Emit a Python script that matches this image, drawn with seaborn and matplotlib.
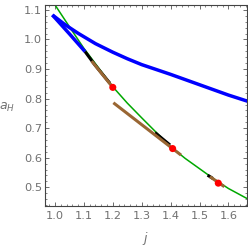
import numpy as np
import pandas as pd
import matplotlib
matplotlib.use("Agg")
import matplotlib.pyplot as plt
from matplotlib.ticker import MultipleLocator
import seaborn as sns

# ---- data ----
green_j = [0.99, 1.0, 1.05, 1.1, 1.15, 1.2, 1.25, 1.3, 1.35, 1.4, 1.45, 1.5, 1.55, 1.6, 1.67]
green_a = [1.132, 1.117, 1.043, 0.970, 0.905, 0.840, 0.785, 0.735, 0.686, 0.638, 0.598, 0.563, 0.528, 0.496, 0.459]

blue_upper_j = [0.991, 1.035, 1.08, 1.14, 1.2, 1.25, 1.3, 1.4, 1.5, 1.6, 1.67]
blue_upper_a = [1.083, 1.050, 1.021, 0.986, 0.957, 0.935, 0.915, 0.882, 0.847, 0.812, 0.790]

blue_lower_j = [0.991, 1.05, 1.104]
blue_lower_a = [1.083, 1.019, 0.959]

black1_j = [1.104, 1.138, 1.19]
black1_a = [0.959, 0.914, 0.852]
black2_j = [1.346, 1.398]
black2_a = [0.685, 0.643]
black3_j = [1.528, 1.546]
black3_a = [0.541, 0.530]

brown1_j = [1.127, 1.2]
brown1_a = [0.927, 0.838]
brown2_j = [1.202, 1.436]
brown2_a = [0.786, 0.609]
brown3_j = [1.536, 1.586]
brown3_a = [0.536, 0.502]

red_j = [1.2, 1.407, 1.565]
red_a = [0.838, 0.631, 0.514]

x_ticks = [1.0, 1.1, 1.2, 1.3, 1.4, 1.5, 1.6]
y_ticks = [0.5, 0.6, 0.7, 0.8, 0.9, 1.0, 1.1]

# ---- figure ----
sns.set_theme(style="ticks")
plt.rcParams['font.family'] = ['DejaVu Sans']

W, H = 248, 249
fig = plt.figure(figsize=(W / 100, H / 100), dpi=100)
ax = fig.add_axes([44.7 / W, (H - 206) / H, (246.5 - 44.7) / W, (206 - 4.7) / H])

GREEN = '#00a800'
BLUE = '#0000ff'
BROWN = '#996633'
RED = '#ff0000'


def seg(j, a, color, lw, z):
    df = pd.DataFrame({'j': j, 'a': a})
    sns.lineplot(data=df, x='j', y='a', sort=False, color=color, lw=lw, ax=ax,
                 zorder=z, solid_capstyle='butt')


seg(green_j, green_a, GREEN, 1.1, 2)
seg(blue_upper_j, blue_upper_a, BLUE, 2.5, 3)
seg(blue_lower_j, blue_lower_a, BLUE, 2.5, 3)
seg(black1_j, black1_a, 'black', 2.2, 4)
seg(black2_j, black2_a, 'black', 2.2, 4)
seg(black3_j, black3_a, 'black', 2.2, 4)
seg(brown1_j, brown1_a, BROWN, 2.2, 5)
seg(brown2_j, brown2_a, BROWN, 2.2, 5)
seg(brown3_j, brown3_a, BROWN, 2.2, 5)

sns.scatterplot(x=red_j, y=red_a, color=RED, s=26, edgecolor='none', ax=ax, zorder=6)

ax.set_xlim(0.9644, 1.6626)
ax.set_ylim(0.4367, 1.1177)
ax.set_xticks(x_ticks)
ax.set_yticks(y_ticks)
ax.set_xticklabels([f"{v:.1f}" for v in x_ticks])
ax.set_yticklabels([f"{v:.1f}" for v in y_ticks])
ax.xaxis.set_minor_locator(MultipleLocator(0.02))
ax.yaxis.set_minor_locator(MultipleLocator(0.02))

ax.tick_params(which='both', direction='in', top=True, right=True,
               color='#555555', labelcolor='#707070', labelsize=8.2)
ax.tick_params(which='major', length=3.2, width=0.6)
ax.tick_params(which='minor', length=1.6, width=0.5)
ax.tick_params(axis='x', which='major', pad=3.5)
ax.tick_params(axis='y', which='major', pad=2)

for s in ax.spines.values():
    s.set_color('#444444')
    s.set_linewidth(0.8)

ax.set_xlabel('j', fontsize=9, style='italic', color='#707070')
ax.xaxis.set_label_coords(0.5, -(232 - 206) / 201.3)
ax.set_ylabel(r'$a_H$', fontsize=9, color='#707070', rotation=0, ha='center', va='center')
ax.yaxis.set_label_coords((7 - 44.7) / 201.8, (206 - 107) / 201.3)

fig.savefig('out.png', dpi=100)
